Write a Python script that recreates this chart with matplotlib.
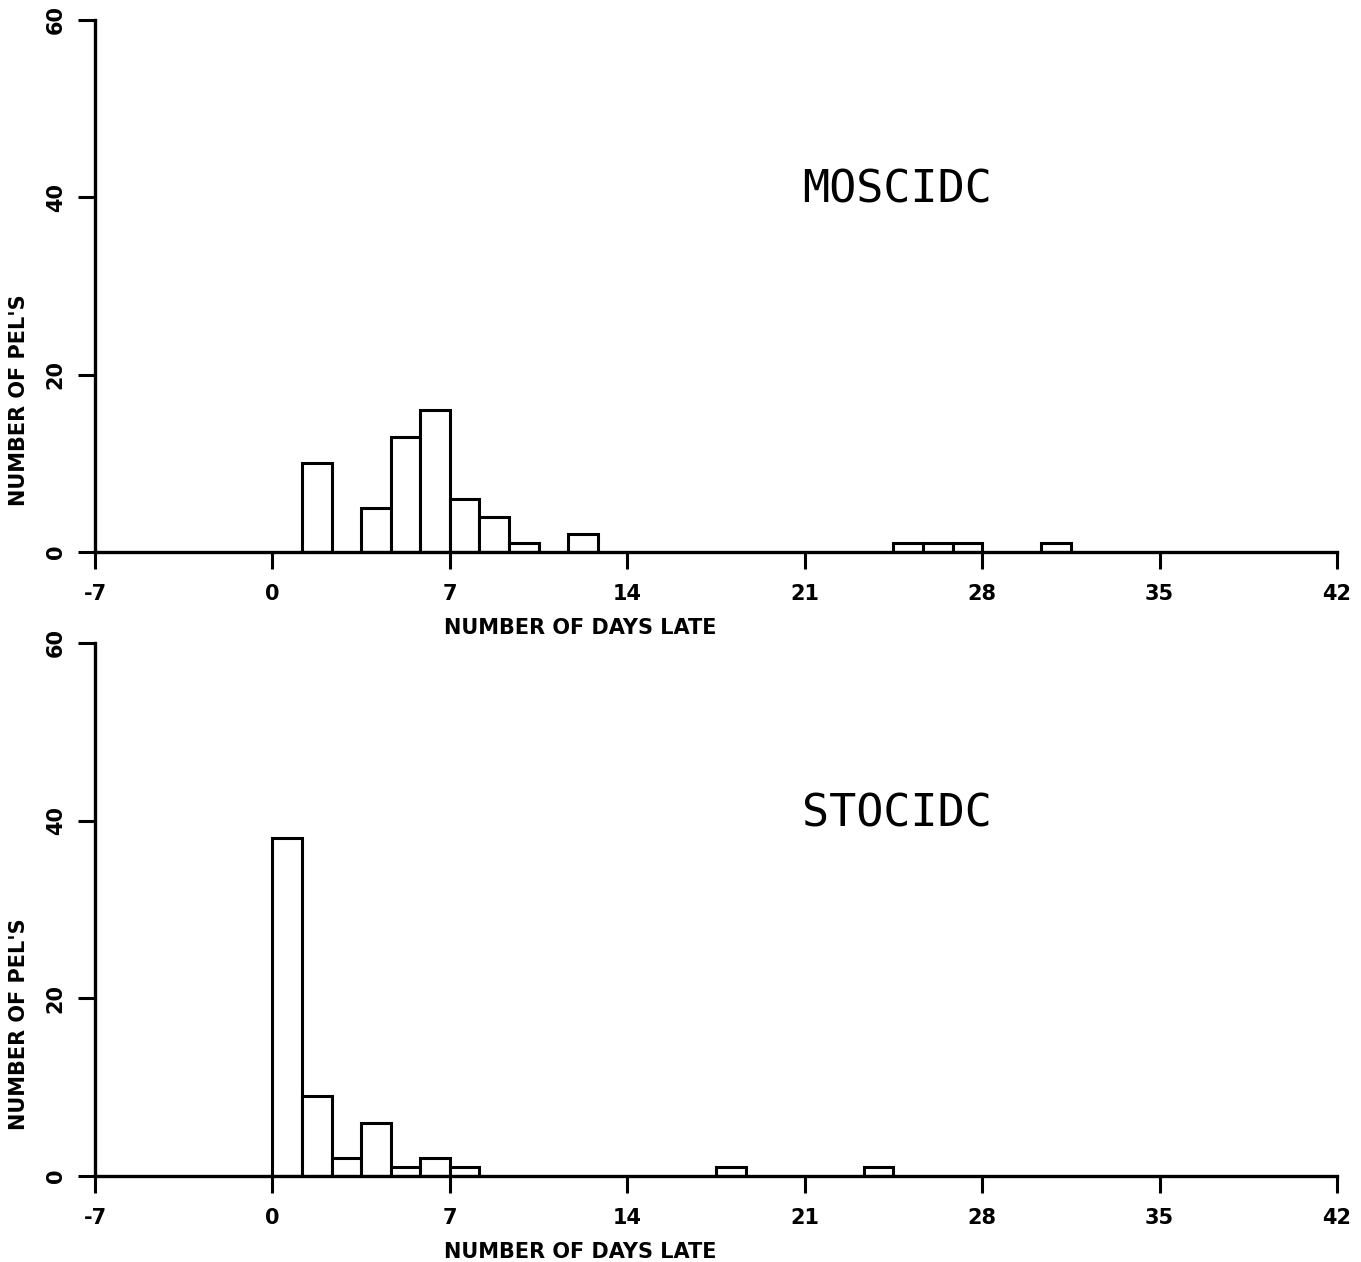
import numpy as np
import matplotlib
matplotlib.use('Agg')
import matplotlib.pyplot as plt

# histogram bins are 7/6 day wide, counted from day 0
bin_width = 7.0 / 6.0
moscidc_bins = [1, 3, 4, 5, 6, 7, 8, 10, 21, 22, 23, 26]
moscidc_counts = [10, 5, 13, 16, 6, 4, 1, 2, 1, 1, 1, 1]
stocidc_bins = [0, 1, 2, 3, 4, 5, 6, 15, 20]
stocidc_counts = [38, 9, 2, 6, 1, 2, 1, 1, 1]

xticks = [-7, 0, 7, 14, 21, 28, 35, 42]
yticks = [0, 20, 40, 60]
panels = [('MOSCIDC', moscidc_bins, moscidc_counts),
          ('STOCIDC', stocidc_bins, stocidc_counts)]

fig = plt.figure(figsize=(13.61, 12.62), dpi=100)
boxes = [[0.0698, 0.5626, 0.9126, 0.4216],
         [0.0698, 0.0681, 0.9126, 0.4224]]

for box, (name, bins, counts) in zip(boxes, panels):
    ax = fig.add_axes(box)
    left = np.array(bins) * bin_width
    ax.bar(left, counts, width=bin_width, align='edge', facecolor='white',
           edgecolor='black', linewidth=2.2)
    ax.set_xlim(-7, 42)
    ax.set_ylim(0, 60)
    ax.set_xticks(xticks)
    ax.set_yticks(yticks)
    ax.set_xticklabels([str(t) for t in xticks], fontsize=15, fontweight='bold')
    ax.set_yticklabels([str(t) for t in yticks], fontsize=15, fontweight='bold',
                       rotation=90, va='center')
    for s in ['top', 'right']:
        ax.spines[s].set_visible(False)
    for s in ['left', 'bottom']:
        ax.spines[s].set_linewidth(2.4)
    ax.tick_params(axis='both', direction='out', length=12, width=2.2, pad=9)
    ax.tick_params(axis='x', pad=11)
    ax.set_xlabel('NUMBER OF DAYS LATE', fontsize=15, fontweight='bold')
    ax.xaxis.set_label_coords(0.391, -0.124)
    ax.set_ylabel("NUMBER OF PEL'S", fontsize=15, fontweight='bold')
    ax.yaxis.set_label_coords(-0.053, 0.285)
    ax.text(0.646, 0.68, name, transform=ax.transAxes, fontsize=32.5,
            family='DejaVu Sans Mono', ha='center', va='center')

fig.savefig('out.png', dpi=100)
